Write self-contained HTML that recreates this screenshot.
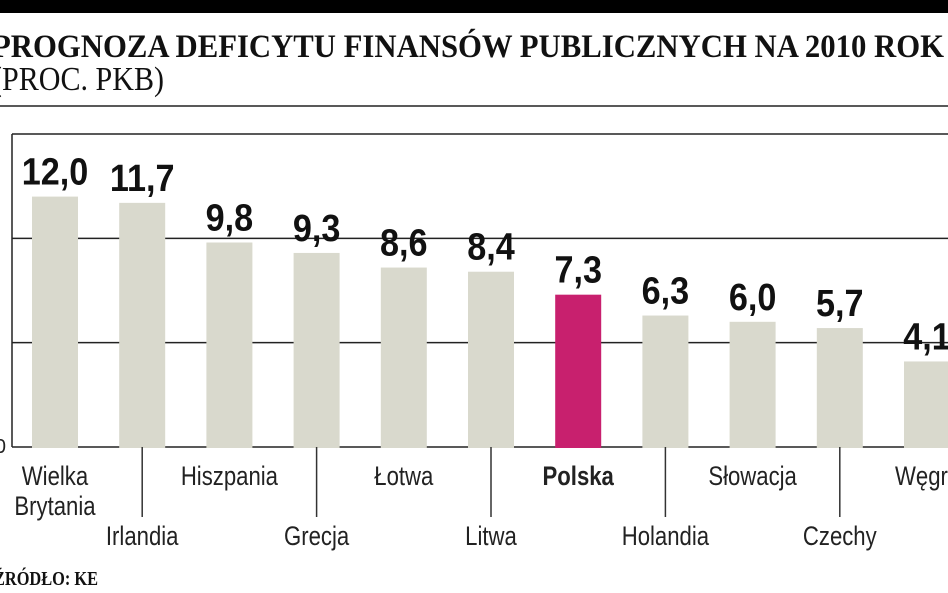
<!DOCTYPE html>
<html><head><meta charset="utf-8"><style>
html,body{margin:0;padding:0;background:#fff;width:948px;height:593px;overflow:hidden}
svg{display:block}
</style></head><body>
<svg id="chart" width="948" height="593" viewBox="0 0 948 593" xmlns="http://www.w3.org/2000/svg">
<rect x="0" y="0" width="948" height="13" fill="#000"/>
<text x="-8" y="57" font-family="Liberation Serif, serif" font-weight="bold" font-size="33" textLength="952" lengthAdjust="spacingAndGlyphs" fill="#111">PROGNOZA DEFICYTU FINANSÓW PUBLICZNYCH NA 2010 ROK</text>
<text x="-8" y="90" font-family="Liberation Serif, serif" font-size="34" textLength="172" lengthAdjust="spacingAndGlyphs" fill="#111">(PROC. PKB)</text>
<line x1="0" y1="106" x2="948" y2="106" stroke="#222" stroke-width="1.5"/>
<g id="grid"></g>
<g id="bars"></g>
<g id="labels"></g>
<text x="-6" y="585" font-family="Liberation Serif, serif" font-weight="bold" font-size="20" textLength="104" lengthAdjust="spacingAndGlyphs" fill="#111">ŹRÓDŁO: KE</text>
</svg>
<script>
const categories=["Wielka Brytania","Irlandia","Hiszpania","Grecja","Łotwa","Litwa","Polska","Holandia","Słowacja","Czechy","Węgry"];
const values=[12.0,11.7,9.8,9.3,8.6,8.4,7.3,6.3,6.0,5.7,4.1];
const valueLabels=["12,0","11,7","9,8","9,3","8,6","8,4","7,3","6,3","6,0","5,7","4,1"];
const gridTicks=[0,5,10,15];
const highlight="Polska";

const NS="http://www.w3.org/2000/svg";
const x0=55, step=87.2, bw=46, yBase=447, yTop=134, vMax=15;
const y=v=>yBase-(yBase-yTop)*v/vMax;
const xc=i=>x0+i*step;
function mk(t,a,p){const e=document.createElementNS(NS,t);for(const k in a)e.setAttribute(k,a[k]);p.appendChild(e);return e;}
const grid=document.getElementById('grid'),bars=document.getElementById('bars'),labs=document.getElementById('labels');
gridTicks.forEach((t,k)=>{
  const l=mk('line',{x1:12,x2:948,y1:y(t),y2:y(t),stroke:'#222','stroke-width':1.5},grid);
  
  
});
const ax=mk('line',{x1:12,x2:12,y1:yTop,y2:yBase,stroke:'#222','stroke-width':1.5},grid);


const zl=mk('text',{x:6,y:yBase+6,'font-family':'Liberation Sans, sans-serif','font-size':20,'text-anchor':'end',fill:'#222'},grid);
zl.textContent='0';


categories.forEach((c,i)=>{
  const cx=xc(i),v=values[i];
  const r=mk('rect',{x:cx-bw/2,y:y(v),width:bw,height:yBase-y(v)+1,fill:c===highlight?'#c8206e':'#d9d9cd'},bars);
  
  
  const vt=mk('text',{x:cx,y:y(v)-12,'font-family':'Liberation Sans, sans-serif','font-weight':'bold','font-size':38,'text-anchor':'middle',fill:'#111',transform:`translate(${cx},0) scale(0.9,1) translate(${-cx},0)`},labs);
  vt.textContent=valueLabels[i];
  
  
  const odd=i%2===1;
  if(odd){
    const tl=mk('line',{x1:cx,x2:cx,y1:yBase,y2:517,stroke:'#333','stroke-width':1.5},labs);
    
    
  }
  const lines=(i===0)?["Wielka","Brytania"]:[c];
  lines.forEach((s,j)=>{
    const ty=(odd?545:485)+j*30;
    const t=mk('text',{x:cx,y:ty,'font-family':'Liberation Sans, sans-serif','font-size':27,'font-weight':c===highlight?'bold':'normal','text-anchor':'middle',fill:'#222',transform:`translate(${cx},0) scale(0.82,1) translate(${-cx},0)`},labs);
    t.textContent=s;
    
    
  });
});
</script>
</body></html>
